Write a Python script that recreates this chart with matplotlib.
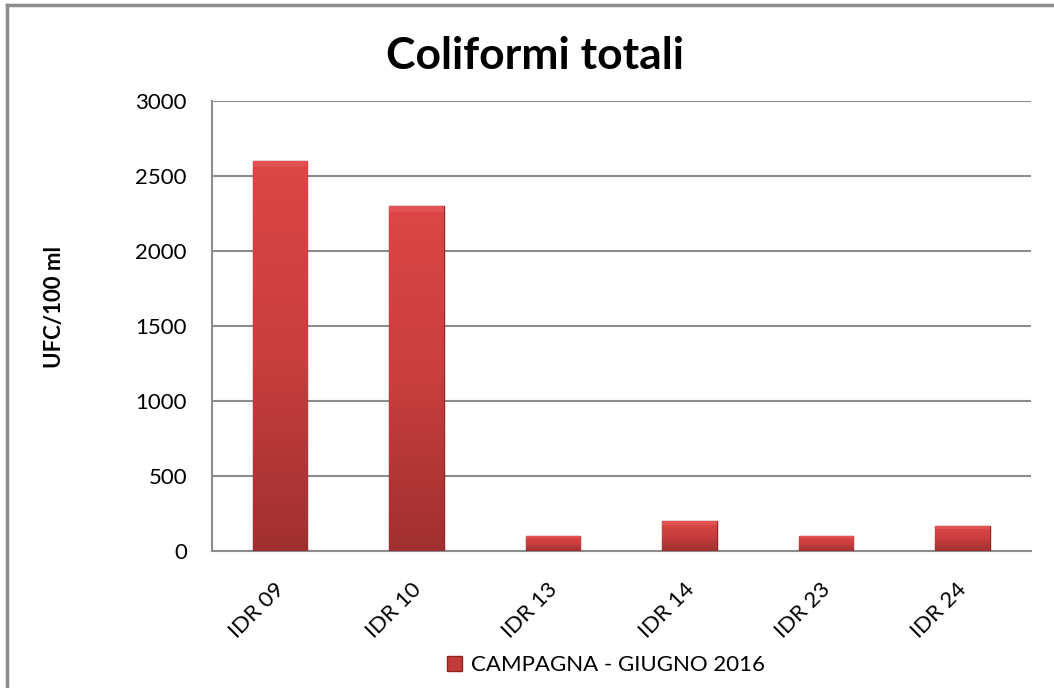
import numpy as np
import matplotlib
matplotlib.use('Agg')
import matplotlib.pyplot as plt
from matplotlib.patches import Rectangle
from matplotlib.transforms import ScaledTranslation

plt.rcParams['font.family'] = ['Lato', 'DejaVu Sans']

stations = ['IDR 09', 'IDR 10', 'IDR 13', 'IDR 14', 'IDR 23', 'IDR 24']
ufc = [2600, 2300, 100, 200, 100, 165]
series_name = 'CAMPAGNA - GIUGNO 2016'
y_ticks = [0, 500, 1000, 1500, 2000, 2500, 3000]

fig = plt.figure(figsize=(10.54, 6.88), dpi=100)
ax = fig.add_axes([0.2011, 0.1991, 0.7769, 0.6534])

x = np.arange(len(stations))
bars = ax.bar(x, ufc, width=0.40, color='#C23B3B', edgecolor='#8E2626',
              linewidth=1.0, zorder=3)

# vertical shading on each bar (lighter top, darker bottom)
grad = np.linspace(0, 1, 256).reshape(-1, 1)
cmap = matplotlib.colors.LinearSegmentedColormap.from_list(
    'bar', ['#A03030', '#C93E3E', '#DC4646'])
for b in bars:
    x0, y0 = b.get_x(), b.get_y()
    w, h = b.get_width(), b.get_height()
    im = ax.imshow(grad, cmap=cmap, origin='lower', aspect='auto',
                   extent=(x0, x0 + w, y0, y0 + h), zorder=3.5)
    im.set_clip_path(b)
    # lighter bevel strip on top
    ax.add_patch(Rectangle((x0, y0 + h - min(h * 0.12, 40)), w,
                           min(h * 0.12, 40), color='#E85C5C', alpha=0.6,
                           zorder=3.6, linewidth=0))

ax.set_xlim(-0.5, len(stations) - 0.5)
ax.set_ylim(0, 3000)
ax.set_yticks(y_ticks)
ax.set_yticklabels([str(v) for v in y_ticks], fontsize=16)
ax.set_xticks(x)
ax.set_xticklabels(stations, fontsize=16, rotation=45, ha='right',
                   rotation_mode='anchor')
ax.tick_params(axis='both', length=0)
ax.tick_params(axis='y', pad=18)
ax.tick_params(axis='x', pad=20)
shift = ScaledTranslation(-6 / 100, 0, fig.dpi_scale_trans)
for lab in ax.get_xticklabels():
    lab.set_transform(lab.get_transform() + shift)

ax.grid(axis='y', color='#8C8C8C', linewidth=1.5, zorder=0)
ax.set_axisbelow(True)
for s in ['top', 'right']:
    ax.spines[s].set_visible(False)
for s in ['left', 'bottom']:
    ax.spines[s].set_color('#8C8C8C')
    ax.spines[s].set_linewidth(1.5)

fig.text(0.508, 0.918, 'Coliformi totali', ha='center', va='center',
         fontsize=32, fontweight='bold')
fig.text(0.052, 0.554, 'UFC/100 ml', rotation=90, ha='center', va='center',
         fontsize=16, fontweight='bold')

leg = fig.legend([bars[0]], [series_name], loc='center',
                 bbox_to_anchor=(0.575, 0.033), frameon=False, fontsize=16,
                 handlelength=0.7, handleheight=0.7, handletextpad=0.4)

# outer chart frame (cropped on right and bottom)
fig.add_artist(plt.Line2D([0.0066, 0.0066], [0, 0.9927], color='#8C8C8C',
                          linewidth=2.5, transform=fig.transFigure))
fig.add_artist(plt.Line2D([0.0066, 1.0], [0.9927, 0.9927], color='#8C8C8C',
                          linewidth=2.5, transform=fig.transFigure))

fig.savefig('out.png', dpi=100)
